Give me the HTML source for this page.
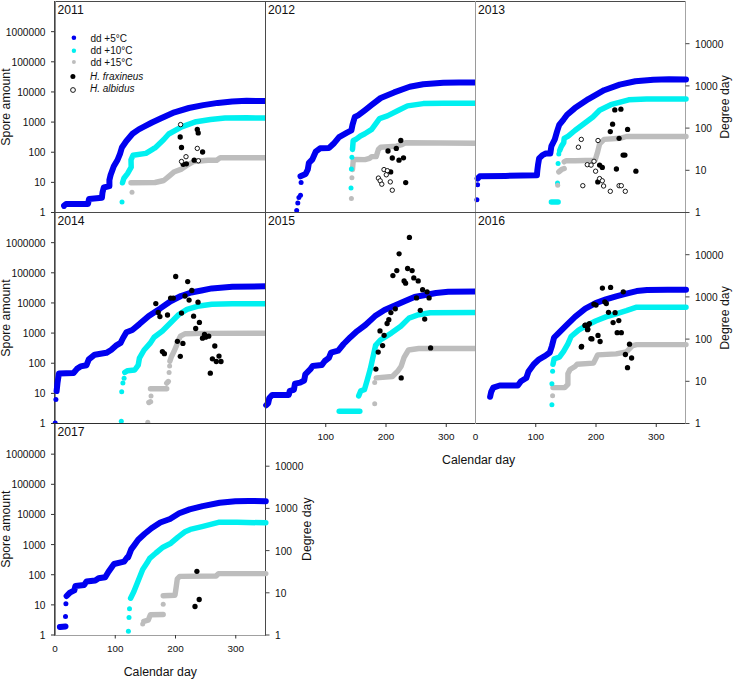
<!DOCTYPE html><html><head><meta charset="utf-8"><style>html,body{margin:0;padding:0;background:#fff;overflow:hidden;}svg{display:block;}text{font-family:"Liberation Sans",sans-serif;fill:#111;}</style></head><body>
<svg width="734" height="680" viewBox="0 0 734 680">
<rect x="0" y="0" width="734" height="680" fill="#fff"/>
<line x1="54.00" y1="1.50" x2="266.00" y2="1.50" stroke="#4a4a4a" stroke-width="1"/>
<line x1="54.00" y1="212.50" x2="266.00" y2="212.50" stroke="#4a4a4a" stroke-width="1"/>
<line x1="54.50" y1="1.00" x2="54.50" y2="213.00" stroke="#444" stroke-width="1"/>
<line x1="55.50" y1="1.00" x2="55.50" y2="213.00" stroke="#8a8a8a" stroke-width="1"/>
<line x1="265.50" y1="1.00" x2="265.50" y2="213.00" stroke="#4a4a4a" stroke-width="1"/>
<line x1="265.00" y1="1.50" x2="476.00" y2="1.50" stroke="#4a4a4a" stroke-width="1"/>
<line x1="265.00" y1="212.50" x2="476.00" y2="212.50" stroke="#4a4a4a" stroke-width="1"/>
<line x1="265.50" y1="1.00" x2="265.50" y2="213.00" stroke="#4a4a4a" stroke-width="1"/>
<line x1="475.50" y1="1.00" x2="475.50" y2="213.00" stroke="#9a9a9a" stroke-width="1"/>
<line x1="475.00" y1="1.50" x2="686.00" y2="1.50" stroke="#4a4a4a" stroke-width="1"/>
<line x1="475.00" y1="212.50" x2="686.00" y2="212.50" stroke="#4a4a4a" stroke-width="1"/>
<line x1="475.50" y1="1.00" x2="475.50" y2="213.00" stroke="#9a9a9a" stroke-width="1"/>
<line x1="685.50" y1="1.00" x2="685.50" y2="213.00" stroke="#a4a4a4" stroke-width="1"/>
<line x1="54.00" y1="212.50" x2="266.00" y2="212.50" stroke="#4a4a4a" stroke-width="1"/>
<line x1="54.00" y1="423.50" x2="266.00" y2="423.50" stroke="#2e2e2e" stroke-width="1"/>
<line x1="54.50" y1="212.00" x2="54.50" y2="424.00" stroke="#444" stroke-width="1"/>
<line x1="55.50" y1="212.00" x2="55.50" y2="424.00" stroke="#8a8a8a" stroke-width="1"/>
<line x1="265.50" y1="212.00" x2="265.50" y2="424.00" stroke="#4a4a4a" stroke-width="1"/>
<line x1="265.00" y1="212.50" x2="476.00" y2="212.50" stroke="#4a4a4a" stroke-width="1"/>
<line x1="265.00" y1="423.50" x2="476.00" y2="423.50" stroke="#2e2e2e" stroke-width="1"/>
<line x1="265.50" y1="212.00" x2="265.50" y2="424.00" stroke="#4a4a4a" stroke-width="1"/>
<line x1="475.50" y1="212.00" x2="475.50" y2="424.00" stroke="#9a9a9a" stroke-width="1"/>
<line x1="475.00" y1="212.50" x2="686.00" y2="212.50" stroke="#4a4a4a" stroke-width="1"/>
<line x1="475.00" y1="423.50" x2="686.00" y2="423.50" stroke="#2e2e2e" stroke-width="1"/>
<line x1="475.50" y1="212.00" x2="475.50" y2="424.00" stroke="#9a9a9a" stroke-width="1"/>
<line x1="685.50" y1="212.00" x2="685.50" y2="424.00" stroke="#a4a4a4" stroke-width="1"/>
<line x1="54.00" y1="423.50" x2="266.00" y2="423.50" stroke="#2e2e2e" stroke-width="1"/>
<line x1="54.00" y1="635.50" x2="266.00" y2="635.50" stroke="#a0a0a0" stroke-width="1"/>
<line x1="54.50" y1="423.00" x2="54.50" y2="635.50" stroke="#444" stroke-width="1"/>
<line x1="55.50" y1="423.00" x2="55.50" y2="635.50" stroke="#8a8a8a" stroke-width="1"/>
<line x1="265.50" y1="423.00" x2="265.50" y2="635.50" stroke="#4a4a4a" stroke-width="1"/>
<defs>
<clipPath id="cp2011"><rect x="51.0" y="-2.5" width="214.5" height="215.0"/></clipPath>
<clipPath id="cp2012"><rect x="261.5" y="-2.5" width="214.0" height="215.0"/></clipPath>
<clipPath id="cp2013"><rect x="471.5" y="-2.5" width="220.0" height="215.0"/></clipPath>
<clipPath id="cp2014"><rect x="51.0" y="208.5" width="214.5" height="215.0"/></clipPath>
<clipPath id="cp2015"><rect x="261.5" y="208.5" width="214.0" height="221.0"/></clipPath>
<clipPath id="cp2016"><rect x="471.5" y="208.5" width="220.0" height="221.0"/></clipPath>
<clipPath id="cp2017"><rect x="51.0" y="419.5" width="220.5" height="221.5"/></clipPath>
</defs>
<g clip-path="url(#cp2011)">
<polyline points="64.1,205.5 66.0,204.0 88.0,204.0 89.0,199.0 101.9,197.8 102.5,192.5 103.8,187.5 109.4,186.2 109.4,180.0 110.6,175.0 113.8,166.2 117.5,160.0 120.0,153.8 121.9,147.5 126.2,141.2 132.5,133.8 138.8,129.4 145.0,126.2 152.0,122.5 160.0,118.8 174.4,112.3 188.9,108.0 203.3,105.1 217.8,102.9 232.2,101.5 246.6,100.8 268.0,101.1" fill="none" stroke="#0000f0" stroke-width="6.0" stroke-linecap="round" stroke-linejoin="round"/>
<polyline points="122.5,182.8 123.9,178.2 127.5,173.6 131.2,167.2 131.0,159.9 133.0,155.3 145.9,153.4 153.3,148.8 155.0,147.9 163.8,139.5 168.7,134.0 181.7,126.8 196.1,121.7 210.5,119.5 225.0,118.1 246.6,117.8 268.0,118.1" fill="none" stroke="#00f0f0" stroke-width="5.5" stroke-linecap="round" stroke-linejoin="round"/>
<polyline points="131.0,182.7 155.0,182.5 163.8,180.5 169.1,176.1 174.4,171.7 181.5,169.1 186.7,165.5 193.8,161.5 207.9,160.2 216.7,160.2 220.3,157.6 268.0,157.8" fill="none" stroke="#bdbdbd" stroke-width="5.4" stroke-linecap="round" stroke-linejoin="round"/>
<circle cx="122.0" cy="202.0" r="2.5" fill="#00f0f0"/>
<circle cx="132.0" cy="192.3" r="2.5" fill="#bdbdbd"/>
<circle cx="64.0" cy="206.5" r="2.5" fill="#0000f0"/>
</g>
<g clip-path="url(#cp2012)">
<polyline points="300.5,176.3 305.6,174.0 307.8,169.5 308.9,162.8 312.3,159.5 315.7,151.7 320.1,148.3 329.1,147.9 333.5,143.8 339.1,137.1 347.0,132.7 351.4,130.4 352.5,124.8 354.8,117.0 358.1,115.4 364.8,110.3 372.0,104.7 380.7,98.0 394.1,92.4 409.7,86.8 423.2,84.2 443.3,82.8 459.0,82.4 480.0,82.4" fill="none" stroke="#0000f0" stroke-width="6.0" stroke-linecap="round" stroke-linejoin="round"/>
<polyline points="352.5,149.4 353.2,140.5 355.9,139.4 360.4,136.0 364.8,133.8 371.7,129.4 379.5,118.6 387.4,115.9 398.6,110.3 407.5,105.9 423.2,103.6 443.3,103.2 480.0,103.2" fill="none" stroke="#00f0f0" stroke-width="5.5" stroke-linecap="round" stroke-linejoin="round"/>
<polyline points="352.5,169.5 353.2,160.6 355.9,159.5 365.0,159.6 369.5,158.4 371.7,156.6 376.2,156.6 378.4,149.5 380.7,147.2 396.3,146.1 401.9,144.6 405.3,142.8 480.0,143.2" fill="none" stroke="#bdbdbd" stroke-width="5.4" stroke-linecap="round" stroke-linejoin="round"/>
<circle cx="296.7" cy="210.6" r="2.5" fill="#0000f0"/>
<circle cx="297.8" cy="203.1" r="2.5" fill="#0000f0"/>
<circle cx="298.9" cy="197.5" r="2.5" fill="#0000f0"/>
<circle cx="300.5" cy="195.3" r="2.5" fill="#0000f0"/>
<circle cx="301.1" cy="182.5" r="2.5" fill="#0000f0"/>
<circle cx="351.0" cy="187.9" r="2.5" fill="#00f0f0"/>
<circle cx="351.4" cy="168.9" r="2.5" fill="#00f0f0"/>
<circle cx="351.9" cy="157.3" r="2.5" fill="#00f0f0"/>
<circle cx="351.4" cy="198.6" r="2.5" fill="#bdbdbd"/>
<circle cx="351.9" cy="177.8" r="2.5" fill="#bdbdbd"/>
</g>
<g clip-path="url(#cp2013)">
<polyline points="477.6,178.6 479.8,176.3 505.6,175.9 536.9,175.2 537.3,170.7 538.0,165.1 539.1,158.4 542.5,155.1 545.8,153.5 550.3,153.5 551.4,146.1 554.8,139.4 557.0,131.6 559.2,124.9 563.7,119.3 567.1,114.8 574.9,108.1 588.4,99.1 604.1,90.2 619.7,84.6 635.4,81.3 653.3,79.7 669.0,79.2 686.0,79.5" fill="none" stroke="#0000f0" stroke-width="6.0" stroke-linecap="round" stroke-linejoin="round"/>
<polyline points="551.4,202.0 558.1,202.0" fill="none" stroke="#00f0f0" stroke-width="5.5" stroke-linecap="round" stroke-linejoin="round"/>
<polyline points="559.7,150.6 561.5,146.1 563.7,142.8 564.2,138.3 568.2,136.1 574.9,130.5 583.9,123.8 592.9,117.0 599.6,110.3 610.8,104.7 628.7,99.8 646.6,99.1 686.0,99.1" fill="none" stroke="#00f0f0" stroke-width="5.5" stroke-linecap="round" stroke-linejoin="round"/>
<polyline points="558.8,171.9 561.5,169.6 564.2,168.5" fill="none" stroke="#bdbdbd" stroke-width="5.4" stroke-linecap="round" stroke-linejoin="round"/>
<polyline points="564.2,161.8 566.0,160.7 575.0,160.7 595.1,160.2 597.4,152.8 599.6,143.9 604.1,139.4 619.7,138.3 626.5,136.5 686.0,136.5" fill="none" stroke="#bdbdbd" stroke-width="5.4" stroke-linecap="round" stroke-linejoin="round"/>
<circle cx="476.9" cy="199.8" r="2.5" fill="#0000f0"/>
<circle cx="477.6" cy="184.8" r="2.5" fill="#0000f0"/>
<circle cx="557.5" cy="183.0" r="2.5" fill="#00f0f0"/>
<circle cx="558.1" cy="163.4" r="2.5" fill="#00f0f0"/>
<circle cx="558.8" cy="154.0" r="2.5" fill="#00f0f0"/>
<circle cx="557.7" cy="185.3" r="2.5" fill="#bdbdbd"/>
</g>
<g clip-path="url(#cp2014)">
<polyline points="56.6,391.1 57.5,382.9 58.9,373.5 73.5,373.0 77.0,368.8 80.6,366.4 86.5,365.2 88.8,359.4 94.7,354.7 106.4,352.8 111.1,350.0 115.9,345.7 120.6,342.9 122.9,338.2 126.4,332.3 132.3,330.0 139.4,324.1 148.8,315.9 160.3,308.4 170.6,301.2 180.9,296.0 191.2,292.5 201.5,290.5 211.8,288.4 232.3,286.8 268.0,286.3" fill="none" stroke="#0000f0" stroke-width="6.0" stroke-linecap="round" stroke-linejoin="round"/>
<polyline points="124.8,372.3 127.6,370.7 134.7,370.0 138.2,365.2 139.4,358.2 144.1,350.0 150.0,343.4 154.1,337.2 162.4,331.0 170.6,322.8 178.8,314.5 187.0,309.4 197.3,306.3 211.8,304.3 232.3,303.8 268.0,303.8" fill="none" stroke="#00f0f0" stroke-width="5.5" stroke-linecap="round" stroke-linejoin="round"/>
<polyline points="150.5,388.7 166.7,388.7" fill="none" stroke="#bdbdbd" stroke-width="5.4" stroke-linecap="round" stroke-linejoin="round"/>
<polyline points="166.7,383.1 168.3,381.5" fill="none" stroke="#bdbdbd" stroke-width="5.4" stroke-linecap="round" stroke-linejoin="round"/>
<polyline points="148.9,402.5 150.5,401.7" fill="none" stroke="#bdbdbd" stroke-width="5.4" stroke-linecap="round" stroke-linejoin="round"/>
<polyline points="169.9,361.2 171.5,356.4 174.0,351.5 176.4,345.9 178.0,341.0 180.4,336.2 185.3,333.7 201.5,333.4 268.0,333.2" fill="none" stroke="#bdbdbd" stroke-width="5.4" stroke-linecap="round" stroke-linejoin="round"/>
<circle cx="55.2" cy="422.9" r="2.5" fill="#0000f0"/>
<circle cx="55.9" cy="399.4" r="2.5" fill="#0000f0"/>
<circle cx="121.3" cy="421.2" r="2.5" fill="#00f0f0"/>
<circle cx="121.7" cy="391.8" r="2.5" fill="#00f0f0"/>
<circle cx="122.9" cy="382.9" r="2.5" fill="#00f0f0"/>
<circle cx="124.1" cy="378.2" r="2.5" fill="#00f0f0"/>
<circle cx="147.8" cy="422.2" r="2.5" fill="#bdbdbd"/>
<circle cx="151.0" cy="396.0" r="2.5" fill="#bdbdbd"/>
<circle cx="169.1" cy="372.6" r="2.5" fill="#bdbdbd"/>
<circle cx="169.6" cy="366.1" r="2.5" fill="#bdbdbd"/>
</g>
<g clip-path="url(#cp2015)">
<polyline points="266.2,405.2 268.2,403.1 269.3,398.0 272.3,394.9 288.8,394.9 289.8,390.8 293.9,389.8 295.0,383.6 300.1,382.6 304.2,380.5 305.3,374.3 310.4,369.2 312.5,366.1 321.7,365.1 324.8,361.0 328.9,357.9 331.0,352.7 338.2,350.7 343.6,344.0 350.4,337.2 357.2,331.1 365.4,325.0 375.0,316.1 384.5,310.0 395.4,305.2 406.3,300.4 414.5,297.0 425.4,295.0 436.0,293.0 448.2,291.8 480.0,291.4" fill="none" stroke="#0000f0" stroke-width="6.0" stroke-linecap="round" stroke-linejoin="round"/>
<polyline points="339.2,411.2 359.8,411.2" fill="none" stroke="#00f0f0" stroke-width="5.5" stroke-linecap="round" stroke-linejoin="round"/>
<polyline points="358.7,395.9 360.8,390.8 364.4,389.7 367.4,379.4 370.3,369.1 375.6,345.4 380.4,340.0 391.3,333.1 400.8,326.3 409.0,318.1 418.6,314.7 430.0,312.7 480.0,312.6" fill="none" stroke="#00f0f0" stroke-width="5.5" stroke-linecap="round" stroke-linejoin="round"/>
<polyline points="376.2,377.9 392.4,376.5 398.2,370.6 401.2,366.2 404.1,357.4 408.5,350.0 418.8,348.5 480.0,348.5" fill="none" stroke="#bdbdbd" stroke-width="5.4" stroke-linecap="round" stroke-linejoin="round"/>
<circle cx="374.7" cy="403.8" r="2.5" fill="#bdbdbd"/>
<circle cx="374.7" cy="382.4" r="2.5" fill="#bdbdbd"/>
</g>
<g clip-path="url(#cp2016)">
<polyline points="490.1,396.8 491.2,391.9 493.3,387.6 499.7,385.5 517.8,385.5 521.0,381.2 526.3,378.0 528.5,371.6 533.8,364.2 539.1,359.3 545.5,355.7 549.8,352.5 551.9,346.1 554.1,337.5 558.3,333.3 565.8,325.8 575.0,316.9 585.3,308.6 595.6,303.1 605.9,299.4 616.1,296.3 626.4,293.6 636.7,291.1 647.0,290.1 667.6,289.7 686.0,289.7" fill="none" stroke="#0000f0" stroke-width="6.0" stroke-linecap="round" stroke-linejoin="round"/>
<polyline points="553.0,364.2 554.1,358.9 559.4,357.2 563.6,351.4 567.9,343.9 571.1,336.5 578.6,330.1 585.3,326.1 595.6,321.0 605.9,316.9 616.1,313.8 626.4,310.7 636.7,307.2 686.0,307.2" fill="none" stroke="#00f0f0" stroke-width="5.5" stroke-linecap="round" stroke-linejoin="round"/>
<polyline points="553.0,387.6 564.7,387.6 567.9,384.4 567.9,373.8 570.0,369.5 575.0,366.5 577.1,364.2 593.5,363.1 597.6,354.9 616.1,353.9 626.4,351.8 632.6,345.7 636.7,344.6 686.0,344.6" fill="none" stroke="#bdbdbd" stroke-width="5.4" stroke-linecap="round" stroke-linejoin="round"/>
<circle cx="551.9" cy="404.7" r="2.5" fill="#00f0f0"/>
<circle cx="551.9" cy="383.8" r="2.5" fill="#00f0f0"/>
<circle cx="552.6" cy="371.2" r="2.5" fill="#00f0f0"/>
<circle cx="552.6" cy="395.7" r="2.5" fill="#bdbdbd"/>
</g>
<g clip-path="url(#cp2017)">
<polyline points="59.9,627.0 65.5,626.4" fill="none" stroke="#0000f0" stroke-width="6.0" stroke-linecap="round" stroke-linejoin="round"/>
<polyline points="66.6,596.0 69.9,592.6 74.3,590.4 75.4,586.0 84.2,584.9 86.4,581.6 95.3,580.5 98.6,578.3 105.2,577.2 108.5,571.7 114.0,564.0 124.0,561.7 127.3,557.3 128.1,557.4 131.2,549.4 133.8,545.9 138.2,539.7 144.4,534.0 151.5,528.2 160.3,522.5 170.0,519.0 179.2,513.3 189.6,509.4 202.7,506.1 219.7,502.8 235.4,501.3 248.5,500.9 265.8,501.3" fill="none" stroke="#0000f0" stroke-width="6.0" stroke-linecap="round" stroke-linejoin="round"/>
<polyline points="130.6,598.2 133.9,591.5 138.3,580.5 142.7,569.5 147.1,562.8 149.7,558.3 155.9,553.0 163.0,547.2 170.9,543.2 178.0,537.1 185.0,531.8 190.3,529.4 202.0,526.6 218.5,522.3 237.3,522.3 265.8,522.8" fill="none" stroke="#00f0f0" stroke-width="5.5" stroke-linecap="round" stroke-linejoin="round"/>
<polyline points="143.8,621.3 148.2,620.2 150.4,614.7 163.2,614.5" fill="none" stroke="#bdbdbd" stroke-width="5.4" stroke-linecap="round" stroke-linejoin="round"/>
<polyline points="163.2,595.7 175.0,595.2 176.2,587.0 177.3,578.8 179.7,576.4 216.1,576.0 218.5,573.6 265.8,573.6" fill="none" stroke="#bdbdbd" stroke-width="5.4" stroke-linecap="round" stroke-linejoin="round"/>
<circle cx="65.5" cy="616.5" r="2.5" fill="#0000f0"/>
<circle cx="65.9" cy="603.7" r="2.5" fill="#0000f0"/>
<circle cx="128.4" cy="631.3" r="2.5" fill="#00f0f0"/>
<circle cx="129.0" cy="617.6" r="2.5" fill="#00f0f0"/>
<circle cx="129.5" cy="608.8" r="2.5" fill="#00f0f0"/>
<circle cx="142.7" cy="624.0" r="2.5" fill="#bdbdbd"/>
<circle cx="163.2" cy="604.2" r="2.5" fill="#bdbdbd"/>
</g>
<circle cx="180.2" cy="137.0" r="2.65" fill="#000"/>
<circle cx="181.5" cy="147.5" r="2.65" fill="#000"/>
<circle cx="197.3" cy="129.4" r="2.65" fill="#000"/>
<circle cx="198.2" cy="132.9" r="2.65" fill="#000"/>
<circle cx="202.6" cy="152.0" r="2.65" fill="#000"/>
<circle cx="183.2" cy="164.3" r="2.65" fill="#000"/>
<circle cx="186.4" cy="163.8" r="2.65" fill="#000"/>
<circle cx="194.2" cy="160.2" r="2.65" fill="#000"/>
<circle cx="180.6" cy="124.6" r="2.2" fill="#fff" stroke="#000" stroke-width="0.9"/>
<circle cx="197.3" cy="148.4" r="2.2" fill="#fff" stroke="#000" stroke-width="0.9"/>
<circle cx="186.0" cy="156.7" r="2.2" fill="#fff" stroke="#000" stroke-width="0.9"/>
<circle cx="181.5" cy="161.5" r="2.2" fill="#fff" stroke="#000" stroke-width="0.9"/>
<circle cx="198.4" cy="160.8" r="2.2" fill="#fff" stroke="#000" stroke-width="0.9"/>
<circle cx="400.8" cy="140.5" r="2.65" fill="#000"/>
<circle cx="396.3" cy="148.4" r="2.65" fill="#000"/>
<circle cx="388.0" cy="151.0" r="2.65" fill="#000"/>
<circle cx="392.3" cy="158.0" r="2.65" fill="#000"/>
<circle cx="399.0" cy="160.2" r="2.65" fill="#000"/>
<circle cx="403.5" cy="157.8" r="2.65" fill="#000"/>
<circle cx="390.7" cy="171.9" r="2.65" fill="#000"/>
<circle cx="405.7" cy="182.6" r="2.65" fill="#000"/>
<circle cx="384.0" cy="169.6" r="2.2" fill="#fff" stroke="#000" stroke-width="0.9"/>
<circle cx="387.4" cy="170.7" r="2.2" fill="#fff" stroke="#000" stroke-width="0.9"/>
<circle cx="386.3" cy="174.8" r="2.2" fill="#fff" stroke="#000" stroke-width="0.9"/>
<circle cx="378.4" cy="178.1" r="2.2" fill="#fff" stroke="#000" stroke-width="0.9"/>
<circle cx="380.2" cy="180.8" r="2.2" fill="#fff" stroke="#000" stroke-width="0.9"/>
<circle cx="381.8" cy="184.2" r="2.2" fill="#fff" stroke="#000" stroke-width="0.9"/>
<circle cx="390.3" cy="181.9" r="2.2" fill="#fff" stroke="#000" stroke-width="0.9"/>
<circle cx="392.3" cy="190.2" r="2.2" fill="#fff" stroke="#000" stroke-width="0.9"/>
<circle cx="614.8" cy="109.9" r="2.65" fill="#000"/>
<circle cx="620.9" cy="109.2" r="2.65" fill="#000"/>
<circle cx="612.6" cy="124.2" r="2.65" fill="#000"/>
<circle cx="610.3" cy="131.6" r="2.65" fill="#000"/>
<circle cx="627.6" cy="129.4" r="2.65" fill="#000"/>
<circle cx="619.1" cy="138.3" r="2.65" fill="#000"/>
<circle cx="623.1" cy="155.1" r="2.65" fill="#000"/>
<circle cx="624.9" cy="155.1" r="2.65" fill="#000"/>
<circle cx="599.6" cy="165.1" r="2.65" fill="#000"/>
<circle cx="602.3" cy="167.4" r="2.65" fill="#000"/>
<circle cx="616.4" cy="169.0" r="2.65" fill="#000"/>
<circle cx="635.9" cy="171.2" r="2.65" fill="#000"/>
<circle cx="597.8" cy="181.9" r="2.65" fill="#000"/>
<circle cx="581.3" cy="139.4" r="2.2" fill="#fff" stroke="#000" stroke-width="0.9"/>
<circle cx="578.4" cy="147.2" r="2.2" fill="#fff" stroke="#000" stroke-width="0.9"/>
<circle cx="598.0" cy="140.5" r="2.2" fill="#fff" stroke="#000" stroke-width="0.9"/>
<circle cx="594.0" cy="161.3" r="2.2" fill="#fff" stroke="#000" stroke-width="0.9"/>
<circle cx="587.3" cy="164.7" r="2.2" fill="#fff" stroke="#000" stroke-width="0.9"/>
<circle cx="591.1" cy="165.1" r="2.2" fill="#fff" stroke="#000" stroke-width="0.9"/>
<circle cx="595.6" cy="171.2" r="2.2" fill="#fff" stroke="#000" stroke-width="0.9"/>
<circle cx="599.6" cy="178.6" r="2.2" fill="#fff" stroke="#000" stroke-width="0.9"/>
<circle cx="602.3" cy="180.8" r="2.2" fill="#fff" stroke="#000" stroke-width="0.9"/>
<circle cx="603.6" cy="186.0" r="2.2" fill="#fff" stroke="#000" stroke-width="0.9"/>
<circle cx="582.8" cy="185.7" r="2.2" fill="#fff" stroke="#000" stroke-width="0.9"/>
<circle cx="610.3" cy="191.3" r="2.2" fill="#fff" stroke="#000" stroke-width="0.9"/>
<circle cx="619.1" cy="185.7" r="2.2" fill="#fff" stroke="#000" stroke-width="0.9"/>
<circle cx="621.3" cy="185.7" r="2.2" fill="#fff" stroke="#000" stroke-width="0.9"/>
<circle cx="625.3" cy="191.3" r="2.2" fill="#fff" stroke="#000" stroke-width="0.9"/>
<circle cx="175.7" cy="276.5" r="2.65" fill="#000"/>
<circle cx="187.7" cy="281.6" r="2.65" fill="#000"/>
<circle cx="191.8" cy="290.5" r="2.65" fill="#000"/>
<circle cx="155.8" cy="303.6" r="2.65" fill="#000"/>
<circle cx="170.6" cy="298.1" r="2.65" fill="#000"/>
<circle cx="173.3" cy="298.1" r="2.65" fill="#000"/>
<circle cx="185.0" cy="296.0" r="2.65" fill="#000"/>
<circle cx="189.1" cy="300.1" r="2.65" fill="#000"/>
<circle cx="198.0" cy="302.2" r="2.65" fill="#000"/>
<circle cx="158.2" cy="312.5" r="2.65" fill="#000"/>
<circle cx="159.9" cy="316.6" r="2.65" fill="#000"/>
<circle cx="167.5" cy="315.0" r="2.65" fill="#000"/>
<circle cx="181.5" cy="313.1" r="2.65" fill="#000"/>
<circle cx="193.6" cy="316.2" r="2.65" fill="#000"/>
<circle cx="199.4" cy="322.4" r="2.65" fill="#000"/>
<circle cx="195.7" cy="328.5" r="2.65" fill="#000"/>
<circle cx="204.5" cy="334.5" r="2.65" fill="#000"/>
<circle cx="208.7" cy="336.2" r="2.65" fill="#000"/>
<circle cx="202.5" cy="338.2" r="2.65" fill="#000"/>
<circle cx="205.6" cy="337.2" r="2.65" fill="#000"/>
<circle cx="177.4" cy="341.3" r="2.65" fill="#000"/>
<circle cx="182.9" cy="343.4" r="2.65" fill="#000"/>
<circle cx="162.4" cy="351.6" r="2.65" fill="#000"/>
<circle cx="164.4" cy="353.7" r="2.65" fill="#000"/>
<circle cx="180.3" cy="356.3" r="2.65" fill="#000"/>
<circle cx="214.8" cy="346.0" r="2.65" fill="#000"/>
<circle cx="219.0" cy="356.1" r="2.65" fill="#000"/>
<circle cx="212.4" cy="358.8" r="2.65" fill="#000"/>
<circle cx="216.3" cy="361.5" r="2.65" fill="#000"/>
<circle cx="221.0" cy="361.5" r="2.65" fill="#000"/>
<circle cx="210.3" cy="373.2" r="2.65" fill="#000"/>
<circle cx="409.4" cy="237.4" r="2.65" fill="#000"/>
<circle cx="399.1" cy="253.8" r="2.65" fill="#000"/>
<circle cx="392.9" cy="275.6" r="2.65" fill="#000"/>
<circle cx="396.8" cy="270.6" r="2.65" fill="#000"/>
<circle cx="407.6" cy="268.5" r="2.65" fill="#000"/>
<circle cx="412.1" cy="270.6" r="2.65" fill="#000"/>
<circle cx="404.1" cy="280.9" r="2.65" fill="#000"/>
<circle cx="405.6" cy="283.2" r="2.65" fill="#000"/>
<circle cx="413.8" cy="277.9" r="2.65" fill="#000"/>
<circle cx="418.2" cy="280.9" r="2.65" fill="#000"/>
<circle cx="422.6" cy="289.7" r="2.65" fill="#000"/>
<circle cx="427.1" cy="291.8" r="2.65" fill="#000"/>
<circle cx="429.1" cy="297.9" r="2.65" fill="#000"/>
<circle cx="416.5" cy="297.9" r="2.65" fill="#000"/>
<circle cx="395.3" cy="308.8" r="2.65" fill="#000"/>
<circle cx="390.9" cy="312.6" r="2.65" fill="#000"/>
<circle cx="388.8" cy="319.7" r="2.65" fill="#000"/>
<circle cx="387.1" cy="323.5" r="2.65" fill="#000"/>
<circle cx="420.3" cy="310.3" r="2.65" fill="#000"/>
<circle cx="424.7" cy="319.1" r="2.65" fill="#000"/>
<circle cx="380.0" cy="330.9" r="2.65" fill="#000"/>
<circle cx="384.1" cy="335.3" r="2.65" fill="#000"/>
<circle cx="382.6" cy="345.6" r="2.65" fill="#000"/>
<circle cx="378.2" cy="352.1" r="2.65" fill="#000"/>
<circle cx="375.9" cy="369.1" r="2.65" fill="#000"/>
<circle cx="430.6" cy="347.9" r="2.65" fill="#000"/>
<circle cx="401.2" cy="377.9" r="2.65" fill="#000"/>
<circle cx="581.3" cy="347.1" r="2.65" fill="#000"/>
<circle cx="585.0" cy="325.4" r="2.65" fill="#000"/>
<circle cx="588.2" cy="324.8" r="2.65" fill="#000"/>
<circle cx="587.5" cy="329.7" r="2.65" fill="#000"/>
<circle cx="590.9" cy="338.6" r="2.65" fill="#000"/>
<circle cx="602.4" cy="288.1" r="2.65" fill="#000"/>
<circle cx="610.6" cy="287.4" r="2.65" fill="#000"/>
<circle cx="623.3" cy="291.8" r="2.65" fill="#000"/>
<circle cx="593.9" cy="304.1" r="2.65" fill="#000"/>
<circle cx="596.0" cy="305.1" r="2.65" fill="#000"/>
<circle cx="604.8" cy="301.8" r="2.65" fill="#000"/>
<circle cx="606.3" cy="303.5" r="2.65" fill="#000"/>
<circle cx="608.5" cy="312.3" r="2.65" fill="#000"/>
<circle cx="615.1" cy="312.7" r="2.65" fill="#000"/>
<circle cx="613.1" cy="322.6" r="2.65" fill="#000"/>
<circle cx="618.8" cy="320.6" r="2.65" fill="#000"/>
<circle cx="585.3" cy="325.1" r="2.65" fill="#000"/>
<circle cx="589.4" cy="323.6" r="2.65" fill="#000"/>
<circle cx="587.8" cy="329.2" r="2.65" fill="#000"/>
<circle cx="617.2" cy="332.7" r="2.65" fill="#000"/>
<circle cx="621.3" cy="332.7" r="2.65" fill="#000"/>
<circle cx="598.0" cy="335.4" r="2.65" fill="#000"/>
<circle cx="591.9" cy="338.9" r="2.65" fill="#000"/>
<circle cx="600.1" cy="341.5" r="2.65" fill="#000"/>
<circle cx="581.6" cy="346.3" r="2.65" fill="#000"/>
<circle cx="629.5" cy="344.2" r="2.65" fill="#000"/>
<circle cx="625.4" cy="354.5" r="2.65" fill="#000"/>
<circle cx="631.6" cy="358.0" r="2.65" fill="#000"/>
<circle cx="627.5" cy="367.7" r="2.65" fill="#000"/>
<circle cx="196.9" cy="571.3" r="2.65" fill="#000"/>
<circle cx="199.2" cy="599.5" r="2.65" fill="#000"/>
<circle cx="195.0" cy="606.5" r="2.65" fill="#000"/>
<line x1="475.50" y1="1.00" x2="475.50" y2="213.00" stroke="#9a9a9a" stroke-width="1"/>
<line x1="475.50" y1="212.00" x2="475.50" y2="424.00" stroke="#9a9a9a" stroke-width="1"/>
<line x1="265.50" y1="1.00" x2="265.50" y2="213.00" stroke="#4a4a4a" stroke-width="1"/>
<line x1="265.50" y1="212.00" x2="265.50" y2="424.00" stroke="#4a4a4a" stroke-width="1"/>
<line x1="265.00" y1="212.50" x2="476.00" y2="212.50" stroke="#4a4a4a" stroke-width="1"/>
<line x1="475.00" y1="212.50" x2="686.00" y2="212.50" stroke="#4a4a4a" stroke-width="1"/>
<line x1="54.00" y1="212.50" x2="266.00" y2="212.50" stroke="#4a4a4a" stroke-width="1"/>
<line x1="54.00" y1="423.50" x2="266.00" y2="423.50" stroke="#2e2e2e" stroke-width="1"/>
<text x="57.5" y="14.1" font-size="12.2">2011</text>
<text x="268.0" y="14.1" font-size="12.2">2012</text>
<text x="478.0" y="14.1" font-size="12.2">2013</text>
<text x="57.5" y="225.1" font-size="12.2">2014</text>
<text x="268.0" y="225.1" font-size="12.2">2015</text>
<text x="478.0" y="225.1" font-size="12.2">2016</text>
<text x="57.5" y="436.1" font-size="12.2">2017</text>
<line x1="51.00" y1="212.50" x2="54.50" y2="212.50" stroke="#333" stroke-width="1"/>
<text x="45.5" y="216.4" font-size="10.2" text-anchor="end">1</text>
<line x1="51.00" y1="182.36" x2="54.50" y2="182.36" stroke="#333" stroke-width="1"/>
<text x="45.5" y="186.3" font-size="10.2" text-anchor="end">10</text>
<line x1="51.00" y1="152.22" x2="54.50" y2="152.22" stroke="#333" stroke-width="1"/>
<text x="45.5" y="156.1" font-size="10.2" text-anchor="end">100</text>
<line x1="51.00" y1="122.08" x2="54.50" y2="122.08" stroke="#333" stroke-width="1"/>
<text x="45.5" y="126.0" font-size="10.2" text-anchor="end">1000</text>
<line x1="51.00" y1="91.94" x2="54.50" y2="91.94" stroke="#333" stroke-width="1"/>
<text x="45.5" y="95.8" font-size="10.2" text-anchor="end">10000</text>
<line x1="51.00" y1="61.80" x2="54.50" y2="61.80" stroke="#333" stroke-width="1"/>
<text x="45.5" y="65.7" font-size="10.2" text-anchor="end">100000</text>
<line x1="51.00" y1="31.66" x2="54.50" y2="31.66" stroke="#333" stroke-width="1"/>
<text x="45.5" y="35.6" font-size="10.2" text-anchor="end">1000000</text>
<text x="0" y="0" font-size="12.3" text-anchor="middle" transform="translate(10.2,107.0) rotate(-90)">Spore amount</text>
<line x1="51.00" y1="423.50" x2="54.50" y2="423.50" stroke="#333" stroke-width="1"/>
<text x="45.5" y="427.4" font-size="10.2" text-anchor="end">1</text>
<line x1="51.00" y1="393.36" x2="54.50" y2="393.36" stroke="#333" stroke-width="1"/>
<text x="45.5" y="397.3" font-size="10.2" text-anchor="end">10</text>
<line x1="51.00" y1="363.22" x2="54.50" y2="363.22" stroke="#333" stroke-width="1"/>
<text x="45.5" y="367.1" font-size="10.2" text-anchor="end">100</text>
<line x1="51.00" y1="333.08" x2="54.50" y2="333.08" stroke="#333" stroke-width="1"/>
<text x="45.5" y="337.0" font-size="10.2" text-anchor="end">1000</text>
<line x1="51.00" y1="302.94" x2="54.50" y2="302.94" stroke="#333" stroke-width="1"/>
<text x="45.5" y="306.8" font-size="10.2" text-anchor="end">10000</text>
<line x1="51.00" y1="272.80" x2="54.50" y2="272.80" stroke="#333" stroke-width="1"/>
<text x="45.5" y="276.7" font-size="10.2" text-anchor="end">100000</text>
<line x1="51.00" y1="242.66" x2="54.50" y2="242.66" stroke="#333" stroke-width="1"/>
<text x="45.5" y="246.6" font-size="10.2" text-anchor="end">1000000</text>
<text x="0" y="0" font-size="12.3" text-anchor="middle" transform="translate(10.2,318.0) rotate(-90)">Spore amount</text>
<line x1="51.00" y1="635.00" x2="54.50" y2="635.00" stroke="#333" stroke-width="1"/>
<text x="45.5" y="638.9" font-size="10.2" text-anchor="end">1</text>
<line x1="51.00" y1="604.86" x2="54.50" y2="604.86" stroke="#333" stroke-width="1"/>
<text x="45.5" y="608.8" font-size="10.2" text-anchor="end">10</text>
<line x1="51.00" y1="574.72" x2="54.50" y2="574.72" stroke="#333" stroke-width="1"/>
<text x="45.5" y="578.6" font-size="10.2" text-anchor="end">100</text>
<line x1="51.00" y1="544.58" x2="54.50" y2="544.58" stroke="#333" stroke-width="1"/>
<text x="45.5" y="548.5" font-size="10.2" text-anchor="end">1000</text>
<line x1="51.00" y1="514.44" x2="54.50" y2="514.44" stroke="#333" stroke-width="1"/>
<text x="45.5" y="518.3" font-size="10.2" text-anchor="end">10000</text>
<line x1="51.00" y1="484.30" x2="54.50" y2="484.30" stroke="#333" stroke-width="1"/>
<text x="45.5" y="488.2" font-size="10.2" text-anchor="end">100000</text>
<line x1="51.00" y1="454.16" x2="54.50" y2="454.16" stroke="#333" stroke-width="1"/>
<text x="45.5" y="458.1" font-size="10.2" text-anchor="end">1000000</text>
<text x="0" y="0" font-size="12.3" text-anchor="middle" transform="translate(10.2,529.2) rotate(-90)">Spore amount</text>
<line x1="685.50" y1="212.50" x2="689.50" y2="212.50" stroke="#444" stroke-width="1"/>
<text x="695.0" y="216.4" font-size="10.2">1</text>
<line x1="685.50" y1="170.30" x2="689.50" y2="170.30" stroke="#444" stroke-width="1"/>
<text x="695.0" y="174.2" font-size="10.2">10</text>
<line x1="685.50" y1="128.10" x2="689.50" y2="128.10" stroke="#444" stroke-width="1"/>
<text x="695.0" y="132.0" font-size="10.2">100</text>
<line x1="685.50" y1="85.90" x2="689.50" y2="85.90" stroke="#444" stroke-width="1"/>
<text x="695.0" y="89.8" font-size="10.2">1000</text>
<line x1="685.50" y1="43.70" x2="689.50" y2="43.70" stroke="#444" stroke-width="1"/>
<text x="695.0" y="47.6" font-size="10.2">10000</text>
<text x="0" y="0" font-size="12.3" text-anchor="middle" transform="translate(728.5,107.0) rotate(-90)">Degree day</text>
<line x1="685.50" y1="423.50" x2="689.50" y2="423.50" stroke="#444" stroke-width="1"/>
<text x="695.0" y="427.4" font-size="10.2">1</text>
<line x1="685.50" y1="381.30" x2="689.50" y2="381.30" stroke="#444" stroke-width="1"/>
<text x="695.0" y="385.2" font-size="10.2">10</text>
<line x1="685.50" y1="339.10" x2="689.50" y2="339.10" stroke="#444" stroke-width="1"/>
<text x="695.0" y="343.0" font-size="10.2">100</text>
<line x1="685.50" y1="296.90" x2="689.50" y2="296.90" stroke="#444" stroke-width="1"/>
<text x="695.0" y="300.8" font-size="10.2">1000</text>
<line x1="685.50" y1="254.70" x2="689.50" y2="254.70" stroke="#444" stroke-width="1"/>
<text x="695.0" y="258.6" font-size="10.2">10000</text>
<text x="0" y="0" font-size="12.3" text-anchor="middle" transform="translate(728.5,318.0) rotate(-90)">Degree day</text>
<line x1="265.50" y1="635.00" x2="269.50" y2="635.00" stroke="#444" stroke-width="1"/>
<text x="275.0" y="638.9" font-size="10.2">1</text>
<line x1="265.50" y1="592.80" x2="269.50" y2="592.80" stroke="#444" stroke-width="1"/>
<text x="275.0" y="596.7" font-size="10.2">10</text>
<line x1="265.50" y1="550.60" x2="269.50" y2="550.60" stroke="#444" stroke-width="1"/>
<text x="275.0" y="554.5" font-size="10.2">100</text>
<line x1="265.50" y1="508.40" x2="269.50" y2="508.40" stroke="#444" stroke-width="1"/>
<text x="275.0" y="512.3" font-size="10.2">1000</text>
<line x1="265.50" y1="466.20" x2="269.50" y2="466.20" stroke="#444" stroke-width="1"/>
<text x="275.0" y="470.1" font-size="10.2">10000</text>
<text x="0" y="0" font-size="12.3" text-anchor="middle" transform="translate(310.5,529.2) rotate(-90)">Degree day</text>
<line x1="325.75" y1="423.50" x2="325.75" y2="427.00" stroke="#333" stroke-width="1"/>
<text x="325.8" y="440.4" font-size="9.9" text-anchor="middle">100</text>
<line x1="386.00" y1="423.50" x2="386.00" y2="427.00" stroke="#333" stroke-width="1"/>
<text x="386.0" y="440.4" font-size="9.9" text-anchor="middle">200</text>
<line x1="446.25" y1="423.50" x2="446.25" y2="427.00" stroke="#333" stroke-width="1"/>
<text x="446.2" y="440.4" font-size="9.9" text-anchor="middle">300</text>
<text x="475.5" y="440.4" font-size="9.9" text-anchor="middle">0</text>
<line x1="535.75" y1="423.50" x2="535.75" y2="427.00" stroke="#333" stroke-width="1"/>
<text x="535.8" y="440.4" font-size="9.9" text-anchor="middle">100</text>
<line x1="596.00" y1="423.50" x2="596.00" y2="427.00" stroke="#333" stroke-width="1"/>
<text x="596.0" y="440.4" font-size="9.9" text-anchor="middle">200</text>
<line x1="656.25" y1="423.50" x2="656.25" y2="427.00" stroke="#333" stroke-width="1"/>
<text x="656.2" y="440.4" font-size="9.9" text-anchor="middle">300</text>
<text x="55.0" y="651.9" font-size="9.9" text-anchor="middle">0</text>
<line x1="115.25" y1="635.00" x2="115.25" y2="638.50" stroke="#333" stroke-width="1"/>
<text x="115.2" y="651.9" font-size="9.9" text-anchor="middle">100</text>
<line x1="175.50" y1="635.00" x2="175.50" y2="638.50" stroke="#333" stroke-width="1"/>
<text x="175.5" y="651.9" font-size="9.9" text-anchor="middle">200</text>
<line x1="235.75" y1="635.00" x2="235.75" y2="638.50" stroke="#333" stroke-width="1"/>
<text x="235.8" y="651.9" font-size="9.9" text-anchor="middle">300</text>
<text x="478.6" y="464.4" font-size="12.3" text-anchor="middle">Calendar day</text>
<text x="160.3" y="676.2" font-size="12.3" text-anchor="middle">Calendar day</text>
<circle cx="73.9" cy="37.8" r="2.3" fill="#0000f0"/>
<circle cx="73.9" cy="50.7" r="2.2" fill="#00f0f0"/>
<circle cx="73.9" cy="61.9" r="2.0" fill="#bdbdbd"/>
<circle cx="72.9" cy="76.5" r="2.5" fill="#000"/>
<circle cx="73.0" cy="90.0" r="2.4" fill="#fff" stroke="#000" stroke-width="0.9"/>
<text x="90.4" y="41.5" font-size="10">dd +5°C</text>
<text x="90.4" y="54.4" font-size="10">dd +10°C</text>
<text x="90.4" y="65.5" font-size="10">dd +15°C</text>
<text x="90.0" y="79.6" font-size="10" font-style="italic">H. fraxineus</text>
<text x="90.0" y="92.4" font-size="10" font-style="italic">H. albidus</text>
</svg></body></html>
